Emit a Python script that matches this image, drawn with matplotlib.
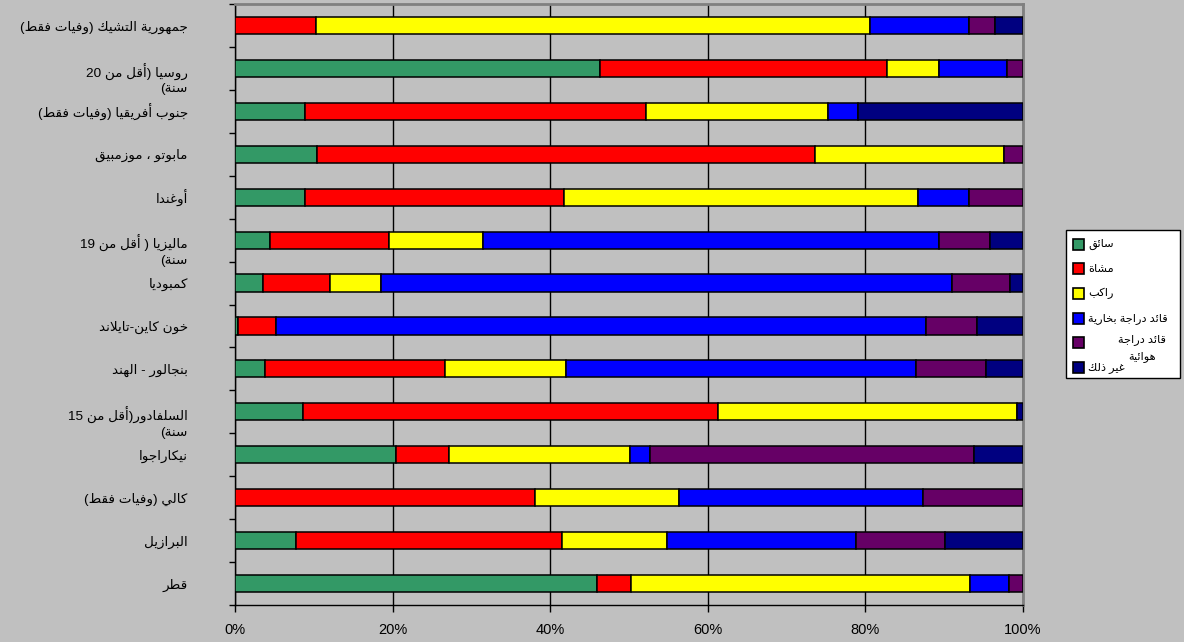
import re
import numpy as np
import matplotlib
matplotlib.use('Agg')
import matplotlib.pyplot as plt
from matplotlib.patches import Rectangle

plt.rcParams['font.family'] = ['Liberation Sans', 'DejaVu Sans']

# ---------------- data (top bar first) ----------------
categories = [
    'جمهورية التشيك (وفيات فقط)',
    'روسيا (أقل من 20\nسنة)',
    'جنوب أفريقيا (وفيات فقط)',
    'مابوتو ، موزمبيق',
    'أوغندا',
    'ماليزيا ( أقل من 19\nسنة)',
    'كمبوديا',
    'خون كاين-تايلاند',
    'بنجالور - الهند',
    'السلفادور(أقل من 15\nسنة)',
    'نيكاراجوا',
    'كالي (وفيات فقط)',
    'البرازيل',
    'قطر',
]
series = ['سائق', 'مشاة', 'راكب', 'قائد دراجة بخارية', 'قائد دراجة\nهوائية', 'غير ذلك']
colors = ['#339966', '#FF0000', '#FFFF00', '#0000FF', '#660066', '#000080']

driver       = [0.0, 46.3, 8.9, 10.4, 8.9, 4.4, 3.6, 0.4, 3.8, 8.6, 20.4, 0.0, 7.7, 45.9]
pedestrian   = [10.3, 36.4, 43.3, 63.2, 32.9, 15.2, 8.5, 4.8, 22.8, 52.7, 6.7, 38.1, 33.8, 4.4]
passenger    = [70.3, 6.6, 23.0, 24.0, 44.9, 11.9, 6.4, 0.0, 15.4, 37.9, 23.0, 18.2, 13.3, 43.0]
motorcyclist = [12.5, 8.7, 3.9, 0.0, 6.4, 57.8, 72.5, 82.5, 44.4, 0.0, 2.6, 31.0, 24.0, 4.9]
cyclist      = [3.3, 2.0, 0.0, 2.4, 6.9, 6.5, 7.4, 6.4, 8.9, 0.0, 41.1, 12.7, 11.3, 1.8]
other        = [3.6, 0.0, 20.9, 0.0, 0.0, 4.2, 1.6, 5.9, 4.7, 0.8, 6.2, 0.0, 9.9, 0.0]
values = [driver, pedestrian, passenger, motorcyclist, cyclist, other]

xticks = [0, 20, 40, 60, 80, 100]
xticklabels = ['0%', '20%', '40%', '60%', '80%', '100%']

# ---------------- Arabic shaping helpers ----------------
DUAL = {'ئ': 0xFE89, 'ب': 0xFE8F, 'ت': 0xFE95, 'ث': 0xFE99, 'ج': 0xFE9D, 'ح': 0xFEA1,
        'خ': 0xFEA5, 'س': 0xFEB1, 'ش': 0xFEB5, 'ص': 0xFEB9, 'ض': 0xFEBD, 'ط': 0xFEC1,
        'ظ': 0xFEC5, 'ع': 0xFEC9, 'غ': 0xFECD, 'ف': 0xFED1, 'ق': 0xFED5, 'ك': 0xFED9,
        'ل': 0xFEDD, 'م': 0xFEE1, 'ن': 0xFEE5, 'ه': 0xFEE9, 'ي': 0xFEF1}
RIGHT = {'آ': 0xFE81, 'أ': 0xFE83, 'ؤ': 0xFE85, 'إ': 0xFE87, 'ا': 0xFE8D, 'ة': 0xFE93,
         'د': 0xFEA9, 'ذ': 0xFEAB, 'ر': 0xFEAD, 'ز': 0xFEAF, 'و': 0xFEED, 'ى': 0xFEEF,
         'ء': None}
LAM_ALEF = {'ا': 0xFEFB, 'أ': 0xFEF7, 'إ': 0xFEF9, 'آ': 0xFEF5}
MIRROR = {'(': ')', ')': '('}


def shape_line(line):
    res = []
    prev_joins = False
    i, n = 0, len(line)
    while i < n:
        c = line[i]
        nxt = line[i + 1] if i + 1 < n else ''
        if c == 'ل' and nxt in LAM_ALEF:
            res.append(chr(LAM_ALEF[nxt] + (1 if prev_joins else 0)))
            prev_joins = False
            i += 2
            continue
        if c in DUAL:
            nj = (nxt in DUAL) or (nxt in RIGHT and RIGHT[nxt] is not None)
            if prev_joins and nj:
                f = 3
            elif prev_joins:
                f = 1
            elif nj:
                f = 2
            else:
                f = 0
            res.append(chr(DUAL[c] + f))
            prev_joins = True
        elif c in RIGHT:
            if RIGHT[c] is None:
                res.append('\uFE80')
            else:
                res.append(chr(RIGHT[c] + (1 if prev_joins else 0)))
            prev_joins = False
        else:
            res.append(c)
            prev_joins = False
        i += 1
    s = ''.join(res)
    tokens = re.findall(r'[0-9]+|.', s)
    tokens = [MIRROR.get(t, t) for t in tokens]
    return ''.join(reversed(tokens))


def ar(text):
    return '\n'.join(shape_line(l) for l in text.split('\n'))


def ylabel(text):
    lines = text.split('\n')
    shaped = ar(text)
    if len(lines) > 1:
        # keep the first line centred on the tick
        return ' \n' + shaped
    return shaped


# ---------------- figure ----------------
W, H = 1184, 642
fig = plt.figure(figsize=(W / 100, H / 100), dpi=100)
fig.patch.set_facecolor('#C0C0C0')
ax = fig.add_axes([235 / W, 1 - 605 / H, (1023 - 235) / W, (605 - 4) / H])
ax.set_facecolor('#C0C0C0')

y = np.arange(len(categories))
left = np.zeros(len(categories))
for name, vals, col in zip(series, values, colors):
    vals = np.asarray(vals, dtype=float)
    bars = ax.barh(y, vals, left=left, height=0.4, color=col,
                   edgecolor='black', linewidth=1.1, zorder=3)
    for b, v in zip(bars, vals):
        if v <= 0:
            b.set_linewidth(0)
    left += vals

ax.set_xlim(0, 100)
ax.set_ylim(len(categories) - 0.5, -0.5)

ax.set_xticks(xticks)
ax.set_xticklabels(xticklabels, fontsize=10.5)
ax.tick_params(axis='x', direction='out', length=5, width=1, pad=8, colors='black')

ax.set_yticks(y)
ax.set_yticklabels([ylabel(c) for c in categories], fontsize=9.7)
ax.tick_params(axis='y', which='major', length=0, pad=34)
ax.set_yticks(np.arange(-0.5, len(categories), 1), minor=True)
ax.tick_params(axis='y', which='minor', direction='out', length=4, width=1, color='black')
for t in ax.get_yticklabels():
    t.set_multialignment('right')
    t.set_linespacing(1.3)

ax.xaxis.grid(True, color='black', linewidth=1, zorder=0)
ax.set_axisbelow(True)

for s in ['left', 'bottom']:
    ax.spines[s].set_color('black')
    ax.spines[s].set_linewidth(1)
for s in ['top', 'right']:
    ax.spines[s].set_color('#808080')
    ax.spines[s].set_linewidth(2)


# ---------------- legend (drawn by hand) ----------------
def fx(px):
    return px / W


def fy(py):
    return 1 - py / H


fig.add_artist(Rectangle((fx(1066), fy(378)), (1180 - 1066) / W, (378 - 230) / H,
                         transform=fig.transFigure, facecolor='white',
                         edgecolor='black', linewidth=1, zorder=5))
row0, step = 244, 24.7
for i, (name, col) in enumerate(zip(series, colors)):
    yc = row0 + i * step
    fig.add_artist(Rectangle((fx(1073), fy(yc + 5.5)), 11 / W, 11 / H,
                             transform=fig.transFigure, facecolor=col,
                             edgecolor='black', linewidth=1.2, zorder=6))
    if '\n' in name:
        fig.text(fx(1142), fy(yc - 9), ar(name), ha='center', va='top',
                 fontsize=8.2, linespacing=1.8, zorder=7,
                 family=['Liberation Sans', 'DejaVu Sans'])
    else:
        fig.text(fx(1088), fy(yc), ar(name), ha='left', va='center',
                 fontsize=8.2, zorder=7, family=['Liberation Sans', 'DejaVu Sans'])

fig.savefig('out.png', dpi=100, facecolor=fig.get_facecolor())
